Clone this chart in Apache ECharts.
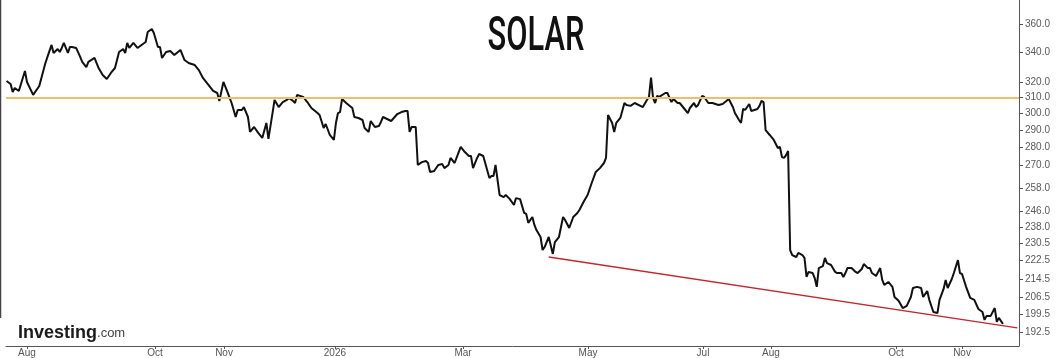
<!DOCTYPE html>
<html><head><meta charset="utf-8">
<script src="https://cdn.jsdelivr.net/npm/echarts@6/dist/echarts.min.js"></script>
<style>html,body{margin:0;padding:0;background:#fff}#c{width:1059px;height:358px}</style>
</head><body><div id="c"></div>
<script>
// ---- data ----
const baseDate = Date.UTC(2025, 7, 1); // day 0
const DAY = 86400000;
const dayOffsets = [-10,-8,-7,-6,-4,-1,0,3,6,9,10,12,13,15,16,17,18,19,20,21,22,24,26,27,29,30,33,35,37,39,41,43,45,47,48,49,50,52,54,56,58,59,61,62,64,65,66,68,70,72,75,77,79,82,84,86,88,91,93,94,96,98,100,102,103,105,106,108,109,111,113,115,117,118,120,121,123,125,127,128,130,131,132,135,137,139,142,143,145,146,148,150,151,152,153,154,156,159,160,162,164,165,167,168,170,172,173,174,176,178,181,183,185,186,187,188,190,191,193,195,196,197,199,201,203,204,206,207,209,211,212,214,216,217,218,220,221,223,226,227,228,229,231,233,234,236,238,239,241,243,244,245,247,248,249,251,252,253,255,257,258,260,262,263,265,267,269,270,272,274,276,278,280,282,283,284,286,287,288,290,292,293,295,297,301,303,304,305,306,307,308,309,312,313,315,316,318,319,321,323,324,326,327,328,330,331,333,335,338,340,343,345,346,348,349,350,351,353,354,357,358,359,360,361,363,365,367,368,369,370,371,372,373,374,376,377,379,380,381,382,384,385,386,387,389,390,391,393,395,396,398,399,400,401,403,405,406,408,409,411,412,413,415,416,417,418,419,421,423,424,426,428,430,432,433,435,437,438,440,441,443,445,446,448,449,450,452,453,455,456,457,459,461,463,465,467,468,469,471,473,474,475,477];
const prices = [320.6,318.7,313.5,316.1,314.2,327.2,320.0,311.7,317.4,332.6,336.7,345.0,339.4,342.2,340.1,342.9,346.4,342.9,339.4,343.6,343.6,342.9,336.7,333.3,329.8,333.3,336.0,329.2,324.5,321.9,325.9,329.2,340.1,342.2,339.4,346.4,342.9,346.4,342.9,345.0,347.1,354.2,356.4,353.5,343.6,343.6,336.0,340.1,340.8,338.0,341.5,334.6,332.6,331.2,327.8,322.6,319.3,314.2,312.9,307.9,320.0,313.5,306.6,298.0,302.3,302.3,304.1,298.0,289.1,292.0,288.5,285.6,294.4,285.0,300.4,308.5,304.1,307.2,308.5,309.7,307.9,306.6,311.7,310.4,307.2,303.5,300.4,299.2,291.4,293.8,287.3,284.4,294.4,300.4,301.0,309.1,306.6,303.5,298.0,297.4,296.2,291.4,289.1,295.6,292.0,292.6,295.0,298.0,296.8,295.6,299.8,301.0,301.7,301.7,289.1,292.0,292.0,270.3,271.9,272.5,271.4,266.5,267.0,270.3,270.8,268.6,270.3,274.2,271.4,277.5,280.4,277.5,275.3,275.3,268.6,274.2,276.4,275.3,263.2,264.3,264.3,270.3,254.3,253.2,254.3,252.2,249.2,252.7,252.2,245.2,244.7,240.3,243.2,239.3,236.8,233.5,227.4,228.8,233.5,225.6,231.1,233.5,243.2,241.7,237.8,243.2,245.2,246.7,250.7,254.3,260.6,266.5,268.6,271.4,274.2,299.2,294.4,289.1,294.4,297.4,306.6,305.4,304.8,306.6,304.1,308.5,310.4,322.9,309.7,306.6,311.1,310.4,312.9,312.9,307.2,309.1,306.6,306.6,303.5,300.4,303.5,306.6,304.1,305.4,311.1,310.4,306.6,306.6,305.4,306.0,309.1,304.1,300.4,296.2,294.4,302.9,302.3,306.0,301.7,302.9,304.8,307.9,307.2,290.2,287.3,284.4,279.8,280.4,274.7,274.2,275.8,278.1,227.4,225.1,224.2,226.1,225.1,223.8,215.3,217.5,217.0,214.8,211.0,219.2,220.1,223.8,221.4,220.6,217.5,217.0,217.0,215.3,217.0,219.2,219.2,217.5,217.0,218.8,221.0,219.2,219.2,217.0,215.7,217.5,219.2,214.0,211.8,213.1,211.0,206.7,205.1,202.1,203.0,206.7,210.5,211.0,210.5,206.7,209.2,205.5,200.5,200.1,205.5,210.1,214.0,210.5,214.4,217.0,222.8,217.0,216.6,211.0,206.3,205.5,201.7,200.5,197.3,198.9,198.9,202.1,196.5,198.1,195.7];
const resistanceLevel = 310;
const trendDays = [255, 484];
const trendValues = [224.2, 194.1];
const yTickValues = [360, 340, 320, 310, 300, 290, 280, 270, 258, 246, 238, 230.5, 222.5, 214.5, 206.5, 199.5, 192.5];
// x tick positions (day offsets, on the chart's own session scale) and their labels
const xTickDays = [0, 62.6, 96.3, 150.5, 213.1, 274.2, 330.4, 363.6, 424.7, 457.0];
const xTickLabels = ['Aug', 'Oct', 'Nov', '2026', 'Mar', 'May', 'Jul', 'Aug', 'Oct', 'Nov'];
const titleText = 'SOLAR';

// ---- chart ----
const seriesData = dayOffsets.map((d, i) => [baseDate + d * DAY, prices[i]]);
const trendData = trendDays.map((d, i) => ({ coord: [baseDate + d * DAY, trendValues[i]] }));
const xTickTimes = xTickDays.map(d => baseDate + d * DAY);
const chart = echarts.init(document.getElementById('c'), null, { renderer: 'canvas' });
const axisColor = '#555';
const font = '"Liberation Sans", Arial, sans-serif';
chart.setOption({
  animation: false,
  backgroundColor: '#fff',
  grid: { left: 6, right: 40, top: 0, bottom: 12 },
  xAxis: {
    type: 'value',
    min: baseDate - 10.26 * DAY,
    max: baseDate + 484.85 * DAY,
    axisLine: { show: true, onZero: false, lineStyle: { color: axisColor, width: 1 } },
    axisTick: { show: true, length: 3, lineStyle: { color: axisColor }, customValues: xTickTimes },
    axisLabel: {
      customValues: xTickTimes,
      color: '#555', fontSize: 10, fontFamily: font, margin: 2,
      formatter: function (v) {
        const i = xTickTimes.findIndex(t => Math.abs(t - v) < DAY / 4);
        return i >= 0 ? xTickLabels[i] : '';
      }
    },
    splitLine: { show: false },
    minorTick: { show: false }
  },
  yAxis: [{
    type: 'log',
    position: 'right',
    min: 187.1,
    max: 378.0,
    axisLine: { show: true, lineStyle: { color: axisColor, width: 1 } },
    axisTick: { show: true, length: 4, lineStyle: { color: axisColor }, customValues: yTickValues },
    axisLabel: {
      customValues: yTickValues,
      color: '#5a5a5a', fontSize: 10, fontFamily: font, margin: 6,
      formatter: v => Number(v).toFixed(1)
    },
    splitLine: { show: false }
  }],
  graphic: [
    { type: 'text', x: 536, y: 38, scaleX: 0.63, style: { text: titleText, font: '500 49px Roboto', fill: '#111', textAlign: 'center', textVerticalAlign: 'middle' } },
    { type: 'text', x: 18, y: 333, style: { text: '{a|Investing}{b|.com}', textVerticalAlign: 'middle', rich: { a: { fontFamily: font, fontWeight: 'bold', fontSize: 18, fill: '#1b1b1b' }, b: { fontFamily: font, fontSize: 13, fill: '#444' } } } },
    { type: 'line', shape: { x1: 0.5, y1: 0, x2: 0.5, y2: 318 }, style: { stroke: '#444', lineWidth: 1.5 } }
  ],
  series: [
    {
      type: 'line', z: 1, data: [], symbol: 'none',
      markLine: {
        silent: true, symbol: 'none', label: { show: false }, animation: false,
        data: [
          { yAxis: resistanceLevel, lineStyle: { color: '#f0bd68', width: 2, type: 'solid' } },
          [ Object.assign({}, trendData[0], { lineStyle: { color: '#c0282d', width: 1.3, type: 'solid' } }), trendData[1] ]
        ]
      }
    },
    {
      type: 'line', z: 3, data: seriesData, symbol: 'none', showSymbol: false,
      lineStyle: { color: '#111', width: 2 }
    }
  ]
});
</script>
</body></html>
